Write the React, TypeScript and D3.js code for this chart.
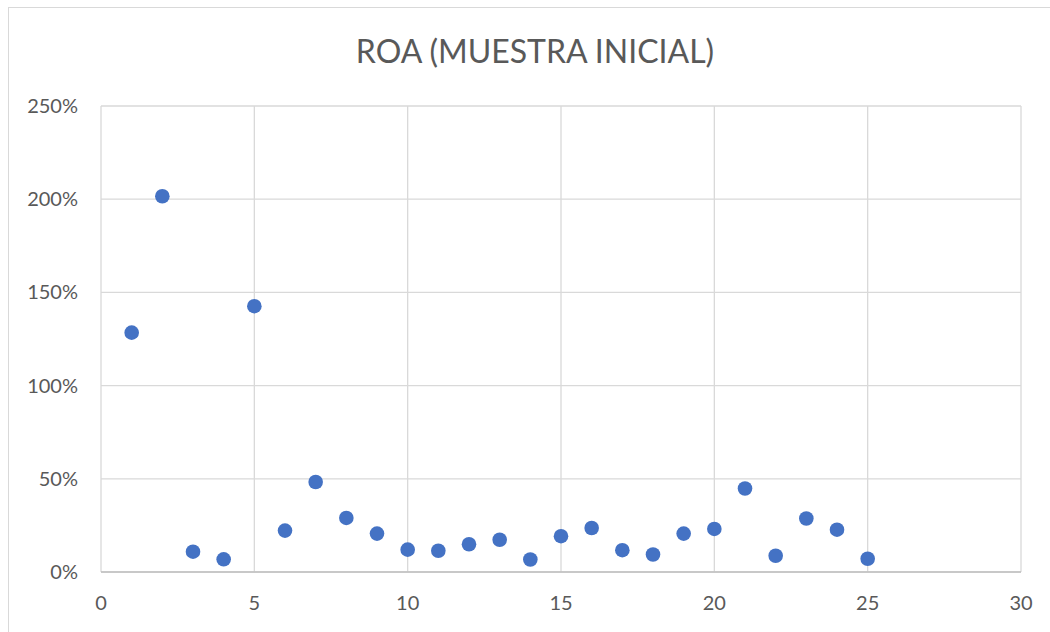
import React from "react";
import * as d3 from "d3";

const title = "ROA (MUESTRA INICIAL)";
const xValues = [1, 2, 3, 4, 5, 6, 7, 8, 9, 10, 11, 12, 13, 14, 15, 16, 17, 18, 19, 20, 21, 22, 23, 24, 25];
const roaValues = [1.284, 2.016, 0.109, 0.068, 1.426, 0.222, 0.483, 0.290, 0.206, 0.120, 0.114, 0.149, 0.173, 0.067, 0.192, 0.236, 0.117, 0.094, 0.206, 0.231, 0.448, 0.087, 0.287, 0.227, 0.071];
const xTicks = [0, 5, 10, 15, 20, 25, 30];
const yTicks = [0, 0.5, 1, 1.5, 2, 2.5];

const W = 1050;
const H = 632;
const margin = { left: 101, right: 1021, top: 106, bottom: 572 };
const font = "Lato, 'Open Sans', sans-serif";
const textColor = "#595959";
const gridColor = "#D9D9D9";
const pointColor = "#4472C4";

export default function App() {
  const x = d3.scaleLinear().domain([0, 30]).range([margin.left, margin.right]);
  const y = d3.scaleLinear().domain([0, 2.5]).range([margin.bottom, margin.top]);
  const fmt = d3.format(".0%");
  return (
    <svg width={W} height={H} style={{ position: "absolute", left: 0, top: 0, background: "#fff" }}>
      <rect x={8.5} y={7.5} width={W} height={H} fill="#fff" stroke={gridColor} strokeWidth={1} />
      <text x={535} y={63} textAnchor="middle" fontFamily={font} fontSize={32} fill={textColor}>
        {title}
      </text>
      {yTicks.map((t) => (
        <line key={"gy" + t} x1={margin.left} x2={margin.right} y1={y(t)} y2={y(t)} stroke={gridColor} strokeWidth={1.3} />
      ))}
      {xTicks.map((t) => (
        <line key={"gx" + t} x1={x(t)} x2={x(t)} y1={margin.top} y2={margin.bottom} stroke={gridColor} strokeWidth={1.3} />
      ))}
      <line x1={margin.left} x2={margin.right} y1={y(0)} y2={y(0)} stroke="#BFBFBF" strokeWidth={1.3} />
      {yTicks.map((t) => (
        <text key={"ly" + t} x={78} y={y(t) + 7} textAnchor="end" fontFamily={font} fontSize={20} fill={textColor}>
          {fmt(t)}
        </text>
      ))}
      {xTicks.map((t) => (
        <text key={"lx" + t} x={x(t)} y={610} textAnchor="middle" fontFamily={font} fontSize={20} fill={textColor}>
          {t}
        </text>
      ))}
      {xValues.map((v, i) => (
        <circle key={"p" + i} cx={x(v)} cy={y(roaValues[i])} r={7.3} fill={pointColor} />
      ))}
    </svg>
  );
}
